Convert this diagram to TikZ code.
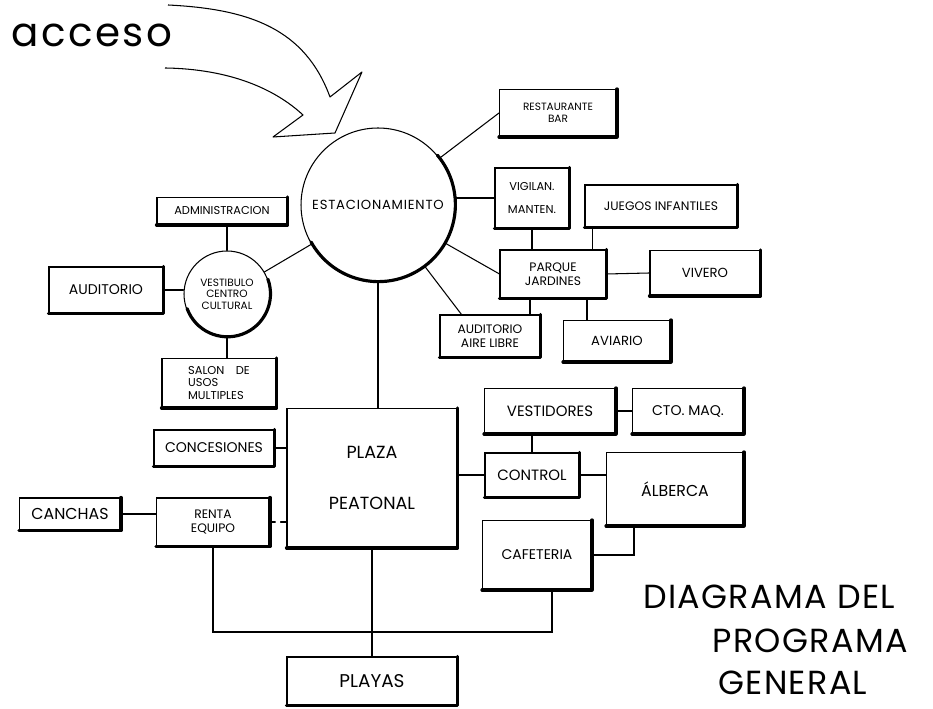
\documentclass[tikz,border=0pt]{standalone}
\usepackage{fontspec}
\setmainfont{Poppins}
\newfontfamily\widefont{Poppins}[LetterSpace=6]
\newfontfamily\titlefont{Poppins}[LetterSpace=4]
\usetikzlibrary{positioning}

\begin{document}
\begin{tikzpicture}[
  x=0.02cm,y=0.02cm,
  link/.style={semithick,line cap=round},
  box/.style={draw,semithick,align=center,inner sep=1pt,
    font=\fontsize{7.5}{8.5}\selectfont},
  hall/.style={draw,circle,semithick,align=center,inner sep=0pt,
    font=\fontsize{7.5}{8.5}\selectfont},
  shade/.style={line width=1.8pt,line cap=round,line join=round},
  title/.style={anchor=base west,inner sep=0pt,font=\titlefont\fontsize{19}{22}\selectfont}
]
  \useasboundingbox (0,0) rectangle (933,709);

  \node[font=\widefont\fontsize{23}{26}\selectfont,inner sep=0pt] (acceso) at (92,674) {acceso};
  \draw[semithick,line join=round] (168,704) .. controls (250,700) and (305,680) .. (330,612)
    -- (362,637) -- (335,576) -- (273,572) -- (303,594)
    .. controls (275,620) and (230,640) .. (165,641);

  \node[hall,minimum size=3.08cm,font=\widefont\fontsize{7.5}{8.5}\selectfont]
    (estacionamiento) at (378,504) {ESTACIONAMIENTO};
  \node[hall,minimum size=1.72cm,font=\fontsize{6}{6.5}\selectfont] (vestibulo) at (227,415)
    {VESTIBULO\\CENTRO\\CULTURAL};

  \node[box,minimum width=2.34cm,minimum height=0.94cm,font=\fontsize{6}{6.5}\selectfont]
    (restaurante) at (558,596) {RESTAURANTE\\BAR};
  \node[box,minimum width=1.48cm,minimum height=1.2cm,font=\fontsize{6.5}{7}\selectfont]
    (vigilancia) at (532,511) {VIGILAN.\\[6pt]MANTEN.};
  \node[box,minimum width=3.04cm,minimum height=0.84cm,font=\fontsize{7}{8}\selectfont]
    (juegos) at (661,503) {JUEGOS INFANTILES};
  \node[box,minimum width=2.12cm,minimum height=0.96cm,font=\fontsize{7}{8}\selectfont]
    (parque) at (553,435) {PARQUE\\JARDINES};
  \node[box,minimum width=2.2cm,minimum height=0.9cm] (vivero) at (705,436) {VIVERO};
  \node[box,minimum width=2cm,minimum height=0.84cm,font=\fontsize{7}{8}\selectfont]
    (airelibre) at (490,373) {AUDITORIO\\AIRE LIBRE};
  \node[box,minimum width=2.14cm,minimum height=0.82cm] (aviario) at (617,368) {AVIARIO};
  \node[box,minimum width=2.6cm,minimum height=0.54cm,font=\fontsize{6.5}{7}\selectfont]
    (administracion) at (222,498) {ADMINISTRACION};
  \node[box,minimum width=2.28cm,minimum height=0.92cm,font=\fontsize{8}{9}\selectfont]
    (auditorio) at (106,419) {AUDITORIO};
  \node[box,minimum width=2.28cm,minimum height=0.98cm,align=left,font=\fontsize{6.5}{7}\selectfont]
    (salon) at (219,326) {SALON\quad DE\\USOS\\MULTIPLES};
  \node[box,minimum width=3.4cm,minimum height=2.78cm,font=\fontsize{10}{12}\selectfont]
    (plaza) at (372,231) {PLAZA\\[17pt]PEATONAL};
  \node[box,minimum width=2.4cm,minimum height=0.72cm,font=\fontsize{8}{9}\selectfont]
    (concesiones) at (214,261) {CONCESIONES};
  \node[box,minimum width=2.02cm,minimum height=0.64cm,font=\fontsize{9}{10}\selectfont]
    (canchas) at (70,195) {CANCHAS};
  \node[box,minimum width=2.26cm,minimum height=0.96cm,font=\fontsize{7}{8}\selectfont]
    (renta) at (213,187) {RENTA\\EQUIPO};
  \node[box,minimum width=3.4cm,minimum height=0.96cm,font=\fontsize{10.5}{12}\selectfont]
    (playas) at (372,28) {PLAYAS};
  \node[box,minimum width=2.62cm,minimum height=0.9cm,font=\fontsize{8.5}{9.5}\selectfont]
    (vestidores) at (550,298) {VESTIDORES};
  \node[box,minimum width=2.22cm,minimum height=0.9cm,font=\fontsize{8}{9}\selectfont]
    (cuartomaq) at (688,298) {CTO. MAQ.};
  \node[box,minimum width=1.88cm,minimum height=0.88cm,font=\fontsize{8.5}{9.5}\selectfont]
    (control) at (532,234) {CONTROL};
  \node[box,minimum width=2.74cm,minimum height=1.46cm,font=\fontsize{9}{10}\selectfont]
    (alberca) at (675,220) {ÁLBERCA};
  \node[box,minimum width=2.18cm,minimum height=1.38cm,font=\fontsize{8}{9}\selectfont]
    (cafeteria) at (537,154) {CAFETERIA};

  \foreach \n in {restaurante,vigilancia,juegos,parque,vivero,airelibre,aviario,
      administracion,auditorio,salon,plaza,concesiones,canchas,renta,playas,
      vestidores,cuartomaq,control,alberca,cafeteria}
    \draw[shade] (\n.north east) -- (\n.south east) -- (\n.south west);
  \draw[shade] (estacionamiento.40) arc[start angle=40,end angle=-151,radius=1.54cm];
  \draw[shade] (vestibulo.20) arc[start angle=20,end angle=-160,radius=0.86cm];

  \draw[link] (estacionamiento) -- (restaurante.west);
  \draw[link] (vigilancia.west) -- (vigilancia.west -| estacionamiento.east);
  \draw[link] (estacionamiento) -- (parque.west);
  \draw[link] (estacionamiento) -- ([xshift=0.44cm]airelibre.north west);
  \draw[link] (estacionamiento) -- (vestibulo);
  \draw[link] (estacionamiento.south) -- (estacionamiento.south |- plaza.north);
  \draw[link] (vigilancia.south) -- (vigilancia.south |- parque.north);
  \draw[link] ([xshift=0.16cm]juegos.south west) -- ([xshift=0.16cm]juegos.south west |- parque.north);
  \draw[link] (parque.east) -- (vivero.west);
  \draw[link] ([xshift=-0.6cm]aviario.north) -- ([xshift=-0.6cm]aviario.north |- parque.south);
  \draw[link] ([xshift=-0.46cm]parque.south) -- ([xshift=-0.46cm]parque.south |- airelibre.north);
  \draw[link] (vestibulo.north) -- (vestibulo.north |- administracion.south);
  \draw[link] (auditorio.east) -- (auditorio.east -| vestibulo.west);
  \draw[link] (vestibulo.south) -- (vestibulo.south |- salon.north);
  \draw[link] (concesiones.east) -- (concesiones.east -| plaza.west);
  \draw[link,dashed] (renta.east) -- (renta.east -| plaza.west);
  \draw[link] (canchas.east) -- (canchas.east -| renta.west);
  \draw[link] (vestidores.east) -- (cuartomaq.west);
  \draw[link] (control.north) -- (control.north |- vestidores.south);
  \draw[link] (control.west) -- (control.west -| plaza.east);
  \draw[link] (control.east) -- (control.east -| alberca.west);
  \draw[link] ([xshift=0.56cm]alberca.south west) |- (cafeteria.east);
  \coordinate (bus) at (372,77);
  \draw[link] (renta.south) |- (bus) -| ([xshift=0.3cm]cafeteria.south);
  \draw[link] (plaza.south) -- (playas.north);

  \node[title] (diagrama) at (643,100) {DIAGRAMA DEL};
  \node[title] (programa) at (712,56) {PROGRAMA};
  \node[title] (general) at (718,14) {GENERAL};
\end{tikzpicture}
\end{document}
